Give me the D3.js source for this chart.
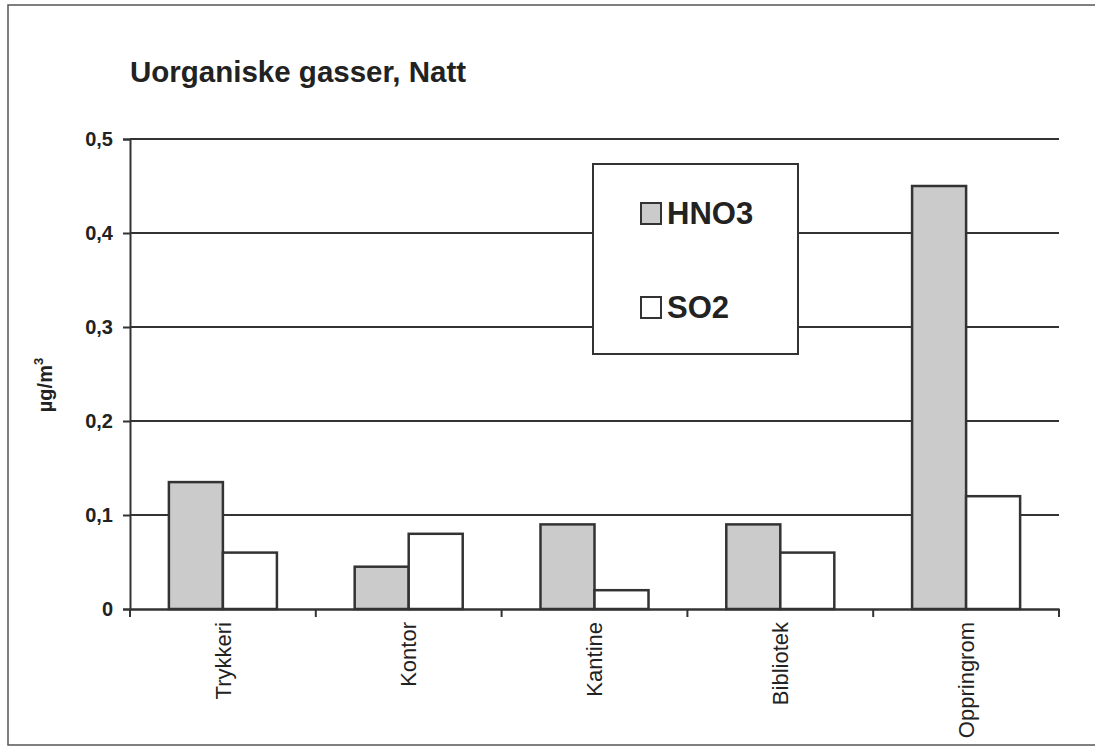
<!DOCTYPE html>
<html>
<head>
<meta charset="utf-8">
<script src="https://cdn.jsdelivr.net/npm/d3@7"></script>
<style>
  body { margin: 0; background: #fff; }
  svg { font-family: Arial, "Liberation Sans", sans-serif; }
</style>
</head>
<body>
<div class="chart"></div>
<script>
// data
let categories = ["Trykkeri", "Kontor", "Kantine", "Bibliotek", "Oppringrom"];
let series = ["HNO3", "SO2"];
let hno3 = [0.135, 0.045, 0.09, 0.09, 0.45];
let so2 = [0.06, 0.08, 0.02, 0.06, 0.12];
let yTicks = [0, 0.1, 0.2, 0.3, 0.4, 0.5];

let width = 1095,
    height = 749;
let margin = {left: 130, right: 36, top: 139, bottom: 140};

let rows = categories.map((c, i) => ({cat: c, HNO3: hno3[i], SO2: so2[i]}));
let colors = {HNO3: "#cbcbcb", SO2: "#ffffff"};
let ink = "#333";

let svg = d3.select('.chart').append('svg')
    .attr("width", width)
    .attr("height", height);

// outer frame
svg.append("rect")
    .attr("x", 8).attr("y", 5)
    .attr("width", width + 20).attr("height", 740)
    .attr("fill", "none")
    .attr("stroke", "#555")
    .attr("stroke-width", 1.5);

svg.append("text")
    .attr("x", 130).attr("y", 82)
    .attr("font-size", 29.5)
    .attr("font-weight", "bold")
    .attr("fill", "#222")
    .text("Uorganiske gasser, Natt");

let x0 = d3.scaleBand()
    .domain(categories)
    .range([margin.left, width - margin.right])
    .padding(0);

let x1 = d3.scaleBand()
    .domain(series)
    .range([0, x0.bandwidth()])
    .paddingInner(0)
    .paddingOuter(0.72);

let y = d3.scaleLinear()
    .domain([0, 0.5])
    .range([height - margin.bottom, margin.top]);

// gridlines
svg.append("g")
    .selectAll("line")
    .data(yTicks.filter(d => d > 0))
    .join("line")
    .attr("x1", margin.left).attr("x2", width - margin.right)
    .attr("y1", d => y(d)).attr("y2", d => y(d))
    .attr("stroke", ink)
    .attr("stroke-width", 2);

// y axis
let yAxis = svg.append("g")
    .attr("transform", `translate(${margin.left},0)`)
    .call(d3.axisLeft(y).tickValues(yTicks).tickSize(7).tickPadding(10)
        .tickFormat(d => d === 0 ? "0" : d3.format(".1f")(d).replace(".", ",")));
yAxis.select(".domain").attr("stroke", ink).attr("stroke-width", 2);
yAxis.selectAll(".tick line").attr("stroke", ink).attr("stroke-width", 2);
yAxis.selectAll(".tick text")
    .attr("font-size", 20)
    .attr("font-weight", "bold")
    .attr("font-family", "Arial, 'Liberation Sans', sans-serif")
    .attr("fill", "#222");

// bars
svg.append("g")
    .selectAll("g")
    .data(rows)
    .join("g")
    .attr("transform", d => `translate(${x0(d.cat)},0)`)
    .selectAll("rect")
    .data(d => series.map(k => ({key: k, value: d[k]})))
    .join("rect")
    .attr("x", d => x1(d.key))
    .attr("width", x1.bandwidth())
    .attr("y", d => y(d.value))
    .attr("height", d => y(0) - y(d.value))
    .attr("fill", d => colors[d.key])
    .attr("stroke", ink)
    .attr("stroke-width", 2.5);

// x axis
let xAxis = svg.append("g")
    .attr("transform", `translate(0,${y(0)})`)
    .call(d3.axisBottom(x0).tickSize(0).tickPadding(14));
xAxis.select(".domain").attr("stroke", ink).attr("stroke-width", 2.5);
xAxis.selectAll(".tick text")
    .attr("font-size", 22)
    .attr("font-family", "Arial, 'Liberation Sans', sans-serif")
    .attr("fill", "#222")
    .attr("text-anchor", "end")
    .attr("dy", "0.35em")
    .attr("transform", "rotate(-90)")
    .attr("x", -13)
    .attr("y", 0);

// category boundary ticks
let bounds = categories.map(c => x0(c)).concat([x0.range()[1]]);
svg.append("g")
    .selectAll("line")
    .data(bounds)
    .join("line")
    .attr("x1", d => d).attr("x2", d => d)
    .attr("y1", y(0)).attr("y2", y(0) + 8)
    .attr("stroke", ink)
    .attr("stroke-width", 2);

// y label
svg.append("text")
    .attr("transform", `translate(52,385) rotate(-90)`)
    .attr("text-anchor", "middle")
    .attr("font-size", 20)
    .attr("font-weight", "bold")
    .attr("fill", "#222")
    .html('µg/m<tspan dy="-9" font-size="13">3</tspan>');

// legend
let legend = svg.append("g").attr("transform", "translate(593,164)");
legend.append("rect")
    .attr("width", 205).attr("height", 190)
    .attr("fill", "#fff")
    .attr("stroke", ink)
    .attr("stroke-width", 2);
let li = legend.selectAll("g.item")
    .data(series)
    .join("g")
    .attr("class", "item")
    .attr("transform", (d, i) => `translate(48,${39 + i * 94})`);
li.append("rect")
    .attr("width", 20).attr("height", 21)
    .attr("fill", d => colors[d])
    .attr("stroke", ink)
    .attr("stroke-width", 2);
li.append("text")
    .attr("x", 26).attr("y", 21)
    .attr("font-size", 31)
    .attr("font-weight", "bold")
    .attr("fill", "#222")
    .text(d => d);
</script>
</body>
</html>
